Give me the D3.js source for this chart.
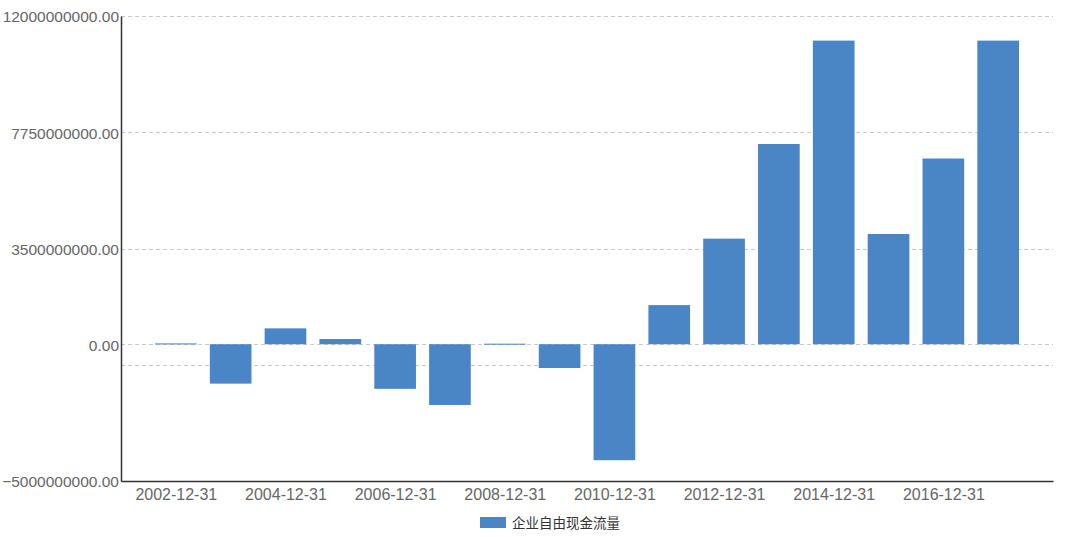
<!DOCTYPE html>
<html><head><meta charset="utf-8">
<script src="https://cdn.jsdelivr.net/npm/d3@7/dist/d3.min.js"></script>
<style>body{margin:0;background:#fff;}svg{display:block;font-family:"Open Sans","Noto Sans",sans-serif;}</style>
</head><body>
<svg id="chart" width="1080" height="537"></svg>
<script>
const categories = ["2002-12-31","2003-12-31","2004-12-31","2005-12-31","2006-12-31","2007-12-31","2008-12-31","2009-12-31","2010-12-31","2011-12-31","2012-12-31","2013-12-31","2014-12-31","2015-12-31","2016-12-31","2017-12-31"];
const values = [30000000,-1440000000,580000000,190000000,-1630000000,-2220000000,20000000,-870000000,-4240000000,1430000000,3860000000,7320000000,11100000000,4030000000,6790000000,11100000000];
const seriesName = "企业自由现金流量";
const gridValues = [12000000000, 7750000000, 3500000000, 0, -750000000, -5000000000];
const labelValues = [12000000000, 7750000000, 3500000000, 0, -5000000000];
const xLabelCategories = ["2002-12-31","2004-12-31","2006-12-31","2008-12-31","2010-12-31","2012-12-31","2014-12-31","2016-12-31"];

const svg = d3.select("#chart");
const mLeft = 121, mRight = 1053, mTop = 16, mBottom = 481;
const color = "#4a85c5";

const x = d3.scalePoint().domain(categories).range([mLeft, mRight]).padding(1);
const y = d3.scaleLinear().domain([-5000000000, 12000000000]).range([mBottom, mTop]);
const bw = x.step() * 0.76;

// grid
svg.append("g").selectAll("line").data(gridValues).join("line")
  .attr("x1", mLeft).attr("x2", mRight)
  .attr("y1", d => Math.round(y(d)) + 0.5).attr("y2", d => Math.round(y(d)) + 0.5)
  .attr("stroke", "#c8c8c8").attr("stroke-width", 1).attr("stroke-dasharray", "4,3");

// bars
svg.append("g").selectAll("rect").data(values).join("rect")
  .attr("x", (d, i) => x(categories[i]) - bw / 2)
  .attr("width", bw)
  .attr("y", d => Math.min(y(d), y(0)))
  .attr("height", d => Math.max(1, Math.abs(y(d) - y(0))))
  .attr("fill", color);

// y axis
const yAxis = d3.axisLeft(y).tickValues(labelValues).tickSize(0).tickPadding(2)
  .tickFormat(d => d3.format(".2f")(d));
const gy = svg.append("g").attr("transform", `translate(${mLeft},0)`).call(yAxis);
gy.select(".domain").attr("stroke", "#333").attr("stroke-width", 1.5);
gy.selectAll("text").attr("fill", "#666").style("font-size", "15.5px").attr("dy", "0.38em");

// x axis
const xAxis = d3.axisBottom(x).tickValues(xLabelCategories).tickSize(0);
const gx = svg.append("g").attr("transform", `translate(0,${mBottom})`).call(xAxis);
gx.select(".domain").attr("stroke", "#333").attr("stroke-width", 1.5);
gx.selectAll("text").attr("fill", "#666").style("font-size", "16px").attr("y", 19).attr("dy", 0);

// legend
const lg = svg.append("g").attr("transform", "translate(480,517)");
lg.append("rect").attr("width", 26).attr("height", 11).attr("fill", color);
lg.append("text").attr("x", 32).attr("y", 6).attr("dy", "0.35em")
  .attr("fill", "#333").style("font-size", "13.5px")
  .style("font-family", '"Noto Sans CJK SC","Noto Sans",sans-serif').text(seriesName);
</script>
</body></html>
